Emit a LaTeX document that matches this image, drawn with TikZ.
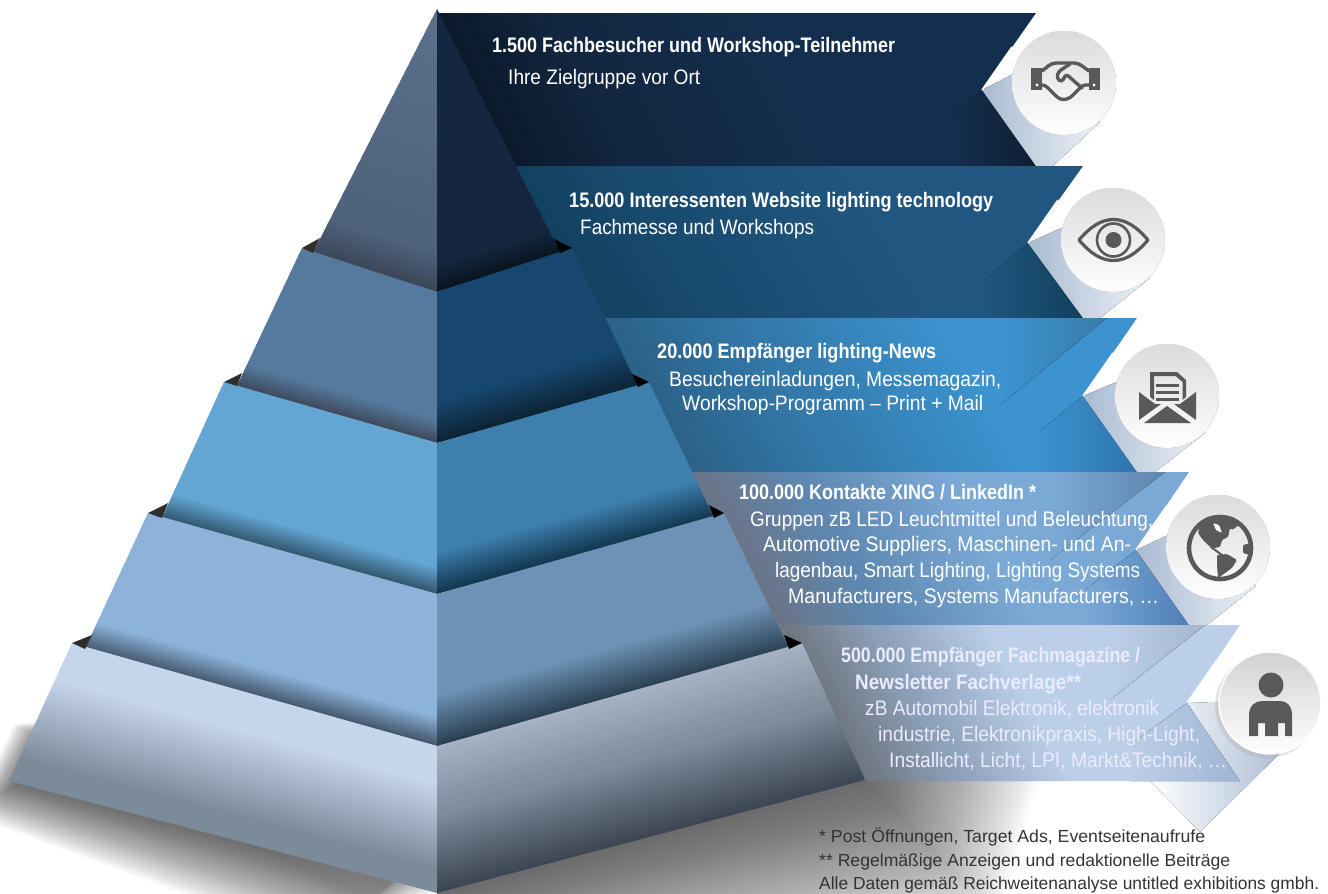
\documentclass[tikz,border=0pt]{standalone}
\usepackage{fontspec}
\usepackage{graphicx}
\setmainfont{Liberation Sans}
\usetikzlibrary{calc}
\definecolor{iconc}{HTML}{58595B}
\definecolor{shA}{HTML}{A9BBD2}
\definecolor{shB}{HTML}{EDF1F6}
\newlength\fitlen
\newcommand\rgf{\fontsize{21}{24}\selectfont}
\newcommand\bdf{\fontsize{21}{24}\selectfont\bfseries}
\newcommand\ntf{\fontsize{17.5}{21}\selectfont}
% name, style, x, baseline y, width, font, text
\newcommand\fitline[7]{%
  \node[#2,anchor=base west,inner sep=0pt] (#1) at (#3,#4) {\settowidth\fitlen{#6#7}\pgfmathsetmacro\fitr{#5/\the\fitlen}\scalebox{\fitr}[1]{#6#7}};}
% bands between A-B and D-C : A B C D t0 t1 c0 c1
\newcommand\facegrad[8]{%
  \foreach \gs in {0,1,...,21}{%
    \pgfmathsetmacro\gtt{#5+(#6-#5)*\gs/22}%
    \pgfmathsetmacro\gtu{min(1,\gtt+1.7*(#6-#5)/22)}%
    \pgfmathsetmacro\gpp{100*(1-\gs/21)}%
    \fill[#7!\gpp!#8] ($(#1)!\gtt!(#4)$) -- ($(#2)!\gtt!(#3)$) -- ($(#2)!\gtu!(#3)$) -- ($(#1)!\gtu!(#4)$) -- cycle;
  }}
% soft shadow: nested polygons between inner and outer outlines of 4 corners
\newcommand\softshadow[8]{%
  \foreach \gs in {1,...,44}{%
    \pgfmathsetmacro\gtt{\gs/44}%
    \fill[black,opacity=.0195] ($(#1)!\gtt!(#5)$) -- ($(#2)!\gtt!(#6)$) -- ($(#3)!\gtt!(#7)$) -- ($(#4)!\gtt!(#8)$) -- cycle;
  }}
\newcommand\rib[6]{% edge x top, y top, edge x bottom, y bottom, right x, W
  \coordinate (ra) at (#1,#2); \coordinate (rb) at (#3,#4);
  \coordinate (rc) at (#3+#6,#4); \coordinate (rd) at (#1+#6,#2);}
\tikzset{
  ribt/.style={text=white},
  ribf/.style={text=white!92!blue},
  notet/.style={text=black!80},
  ico/.style={fill=iconc,draw=none},
  icol/.style={draw=iconc,line cap=round,line join=round},
  disc/.style={shade,shading angle=-45,top color=#1,bottom color=white},
  disc/.default={black!14},
  foldshadow/.style={shade,left color=shA,right color=shB}
}
\begin{document}
\begin{tikzpicture}[x=1pt,y=-1pt]
\useasboundingbox (0,0) rectangle (1328,894);
% ---- ground shadows
\coordinate (sa) at (60,720); \coordinate (sb) at (20,781); \coordinate (sc) at (437,893); \coordinate (sd) at (437,760);
\coordinate (ta) at (14,724); \coordinate (tb) at (-30,815); \coordinate (tc) at (280,930); \coordinate (td) at (437,930);
\softshadow{sa}{sb}{sc}{sd}{ta}{tb}{tc}{td}
\coordinate (ua) at (437,893); \coordinate (ub) at (865,781); \coordinate (uc) at (865,700); \coordinate (ud) at (437,700);
\coordinate (va) at (437,1010); \coordinate (vb) at (1000,920); \coordinate (vc) at (1060,700); \coordinate (vd) at (437,700);
\softshadow{ua}{ub}{uc}{ud}{va}{vb}{vc}{vd}
% ---- long shadow of the last ribbon
\fill[shade,left color=white,right color=shA]
  (1187,703) -- (1240,781) -- (1150,781) -- (1200,832) -- (1288,745) -- (1270,700) -- cycle;
% ---- ribbons
% R1
\begin{scope}
\definecolor{a0}{HTML}{0B1A2B}\definecolor{a1}{HTML}{12263F}\definecolor{a2}{HTML}{142F4E}
\clip (437,13) -- (1036,13) -- (982,90) -- (1036,166) -- (490,166) -- cycle;
\fill[a2] (430,13) rectangle (1040,166);
\fill[a0] (430,13) -- (439,13) -- (516,166) -- (430,166) -- cycle;
\rib{439}{13}{516}{166}{1036}{320}
\facegrad{ra}{rb}{rc}{rd}{0}{.35}{a0}{a1}
\facegrad{ra}{rb}{rc}{rd}{.35}{1}{a1}{a2}
\fill[shade,left color=a2,right color=a1!80!black] (982,90) -- (1036,166) -- (950,166) -- (950,118) -- cycle;
\end{scope}
\fill[foldshadow] (982,90) -- (1036,166) -- (1053,166) -- (1100,122) -- (1064,48) -- cycle;
\draw[white,line width=1.6pt] (982,90) -- (1012,47);
% R2
\begin{scope}
\definecolor{b0}{HTML}{134260}\definecolor{b1}{HTML}{1A4C72}\definecolor{b2}{HTML}{20567F}
\clip (480,166) -- (1083,166) -- (1028,243) -- (1083,318) -- (570,318) -- cycle;
\fill[b2] (480,166) rectangle (1090,318);
\fill[b0] (480,166) -- (516,166) -- (607,318) -- (480,318) -- cycle;
\rib{516}{166}{607}{318}{1083}{330}
\facegrad{ra}{rb}{rc}{rd}{0}{.4}{b0}{b1}
\facegrad{ra}{rb}{rc}{rd}{.4}{1}{b1}{b2}
\fill[shade,left color=b2,right color=black!4!b0] (1028,243) -- (1083,318) -- (985,318) -- (985,280) -- cycle;
\end{scope}
\fill[foldshadow] (1028,243) -- (1083,318) -- (1100,318) -- (1150,278) -- (1113,205) -- cycle;
\draw[white,line width=1.6pt] (1028,243) -- (1058,200);
% R3
\begin{scope}
\definecolor{c0}{HTML}{2B6288}\definecolor{c1}{HTML}{337AAB}\definecolor{c2}{HTML}{3C93CF}
\definecolor{c3}{HTML}{3A7CAA}\definecolor{c4}{HTML}{2E74AC}
\clip (570,318) -- (1137,318) -- (1083,396) -- (1137,472) -- (660,472) -- cycle;
\fill[c2] (570,318) rectangle (1140,472);
\fill[c0] (570,318) -- (607,318) -- (693,472) -- (570,472) -- cycle;
\rib{607}{318}{693}{472}{1137}{340}
\facegrad{ra}{rb}{rc}{rd}{0}{.45}{c0}{c1}
\facegrad{ra}{rb}{rc}{rd}{.45}{1}{c1}{c2}
\fill[shade,left color=c2,right color=c3] (1107,318) -- (1000,318) -- (1000,405) -- cycle;
\fill[shade,left color=c2,right color=c4] (1083,396) -- (1137,472) -- (1038,472) -- (1038,433) -- cycle;
\end{scope}
\fill[foldshadow] (1083,396) -- (1137,472) -- (1155,472) -- (1205,433) -- (1167,361) -- cycle;
\draw[white,line width=1.6pt] (1083,396) -- (1113,353);
% R4
\begin{scope}
\definecolor{d0}{HTML}{6A7487}\definecolor{d1}{HTML}{5E88B1}\definecolor{d2}{HTML}{7BA9D6}
\definecolor{d3}{HTML}{5F86AD}\definecolor{d4}{HTML}{4F7FB8}
\clip (660,472) -- (1189,472) -- (1136,550) -- (1189,625) -- (750,625) -- cycle;
\fill[d2] (660,472) rectangle (1195,625);
\fill[d0] (660,472) -- (693,472) -- (780,625) -- (660,625) -- cycle;
\rib{693}{472}{780}{625}{1189}{260}
\facegrad{ra}{rb}{rc}{rd}{0}{.4}{d0}{d1}
\facegrad{ra}{rb}{rc}{rd}{.4}{1}{d1}{d2}
\fill[shade,left color=d2,right color=d3] (1165,472) -- (1050,472) -- (1050,560) -- cycle;
\fill[shade,left color=d2,right color=d4] (1136,550) -- (1189,625) -- (1085,625) -- (1085,590) -- cycle;
\end{scope}
\fill[foldshadow] (1136,550) -- (1189,625) -- (1207,625) -- (1256,586) -- (1218,512) -- cycle;
\draw[white,line width=1.6pt] (1136,550) -- (1166,507);
% R5
\begin{scope}
\definecolor{e0}{HTML}{6E757E}\definecolor{e1}{HTML}{8CA0B9}\definecolor{e2}{HTML}{BBCFE8}
\definecolor{e3}{HTML}{A3B6CC}\definecolor{e4}{HTML}{9FB5D3}
\clip (750,625) -- (1240,625) -- (1187,703) -- (1240,781) -- (840,781) -- cycle;
\fill[e2] (750,625) rectangle (1245,781);
\fill[e0] (750,625) -- (780,625) -- (865,781) -- (750,781) -- cycle;
\rib{780}{625}{865}{781}{1240}{210}
\facegrad{ra}{rb}{rc}{rd}{0}{.45}{e0}{e1}
\facegrad{ra}{rb}{rc}{rd}{.45}{1}{e1}{e2}
\fill[shade,left color=e2,right color=e3] (1205,625) -- (1110,625) -- (1110,700) -- cycle;
\fill[shade,left color=e2,right color=e4] (1187,703) -- (1240,781) -- (1130,781) -- (1130,745) -- cycle;
\end{scope}
\draw[white,line width=1.6pt] (1187,703) -- (1217,660);
% ---- pyramid
\definecolor{k1}{HTML}{5A708B}\definecolor{k1b}{HTML}{4F627B}\definecolor{k1c}{HTML}{3B4759}
\definecolor{m1}{HTML}{14263F}\definecolor{m1c}{HTML}{0A1520}
\definecolor{k2}{HTML}{567A9D}\definecolor{k2c}{HTML}{3F4C5E}
\definecolor{m2}{HTML}{17476F}\definecolor{m2c}{HTML}{0C2436}
\definecolor{k3}{HTML}{63A5D3}\definecolor{k3c}{HTML}{33586F}
\definecolor{m3}{HTML}{3E7FAE}\definecolor{m3c}{HTML}{123750}
\definecolor{k4}{HTML}{8EB3DB}\definecolor{k4c}{HTML}{44596E}
\definecolor{m4}{HTML}{6E92B6}\definecolor{m4c}{HTML}{2B4153}
\definecolor{k5}{HTML}{C5D5EB}\definecolor{k5b}{HTML}{7C8B9A}
\definecolor{m5}{HTML}{A5B2C3}\definecolor{m5b}{HTML}{7F8D9D}\definecolor{m5c}{HTML}{3E4754}
\coordinate (c1) at (437,9);
\coordinate (c2) at (437,292);
\coordinate (c3) at (437,443);
\coordinate (c4) at (437,594);
\coordinate (c5) at (437,746);
\coordinate (c6) at (437,893);
\coordinate (l1) at (437,9);  \coordinate (li1) at (313,253); \coordinate (ln1) at (320,238);
\coordinate (l2) at (302,248);\coordinate (li2) at (237,386); \coordinate (ln2) at (242,373);
\coordinate (l3) at (224,382);\coordinate (li3) at (162,518); \coordinate (ln3) at (168,503);
\coordinate (l4) at (148,513);\coordinate (li4) at (85,649);  \coordinate (ln4) at (92,635);
\coordinate (l5) at (72,643); \coordinate (li5) at (9,781);
\coordinate (r1) at (437,9);  \coordinate (ri1) at (560,253); \coordinate (rn1) at (554,239);
\coordinate (r2) at (572,248);\coordinate (ri2) at (638,387); \coordinate (rn2) at (632,374);
\coordinate (r3) at (649,382);\coordinate (ri3) at (714,518); \coordinate (rn3) at (709,505);
\coordinate (r4) at (724,513);\coordinate (ri4) at (789,649); \coordinate (rn4) at (784,635);
\coordinate (r5) at (802,643);\coordinate (ri5) at (865,780);
% tier 1
\facegrad{l1}{c1}{c2}{li1}{0}{.86}{k1}{k1b}
\facegrad{l1}{c1}{c2}{li1}{.86}{1}{k1b}{k1c}
\facegrad{r1}{c1}{c2}{ri1}{0}{.9}{m1}{m1}
\facegrad{r1}{c1}{c2}{ri1}{.9}{1}{m1}{m1c}
% tier 2
\facegrad{l2}{c2}{c3}{li2}{0}{.84}{k2}{k2}
\facegrad{l2}{c2}{c3}{li2}{.84}{1}{k2}{k2c}
\facegrad{r2}{c2}{c3}{ri2}{0}{.72}{m2}{m2}
\facegrad{r2}{c2}{c3}{ri2}{.72}{1}{m2}{m2c}
% tier 3
\facegrad{l3}{c3}{c4}{li3}{0}{.82}{k3}{k3}
\facegrad{l3}{c3}{c4}{li3}{.82}{1}{k3}{k3c}
\facegrad{r3}{c3}{c4}{ri3}{0}{.72}{m3}{m3}
\facegrad{r3}{c3}{c4}{ri3}{.72}{1}{m3}{m3c}
% tier 4
\facegrad{l4}{c4}{c5}{li4}{0}{.8}{k4}{k4}
\facegrad{l4}{c4}{c5}{li4}{.8}{1}{k4}{k4c}
\facegrad{r4}{c4}{c5}{ri4}{0}{.66}{m4}{m4}
\facegrad{r4}{c4}{c5}{ri4}{.66}{1}{m4}{m4c}
% tier 5
\facegrad{l5}{c5}{c6}{li5}{0}{.25}{k5}{k5}
\facegrad{l5}{c5}{c6}{li5}{.25}{.85}{k5}{k5b}
\facegrad{l5}{c5}{c6}{li5}{.85}{1}{k5b}{k5b}
\facegrad{r5}{c5}{c6}{ri5}{0}{.45}{m5}{m5b}
\facegrad{r5}{c5}{c6}{ri5}{.45}{1}{m5b}{m5c}
% notch triangles
\fill[black!82] (ln1) -- (l2) -- (li1) -- cycle;
\fill[black] (rn1) -- (r2) -- (ri1) -- cycle;
\fill[black!82] (ln2) -- (l3) -- (li2) -- cycle;
\fill[black] (rn2) -- (r3) -- (ri2) -- cycle;
\fill[black!82] (ln3) -- (l4) -- (li3) -- cycle;
\fill[black] (rn3) -- (r4) -- (ri3) -- cycle;
\fill[black!82] (ln4) -- (l5) -- (li4) -- cycle;
\fill[black] (rn4) -- (r5) -- (ri4) -- cycle;
% ---- discs
\fill[disc,draw=blue!6!white] (1064,83) circle (52pt);
\fill[disc,draw=blue!6!white] (1113,240) circle (52pt);
\fill[disc,draw=blue!6!white] (1167,396) circle (52pt);
\fill[disc,draw=blue!6!white] (1218,547) circle (52pt);
\fill[black!30,opacity=.35] (1267,706) circle (52pt);
\fill[disc=black!18,draw=white,line width=1.4pt] (1270,703) circle (51pt);
% ---- handshake
\fill[ico] (1031,68) rectangle (1042,90);
\fill[ico] (1089,68) rectangle (1100,90);
\fill[white] (1037,85) circle (1.6pt);
\fill[white] (1094,85) circle (1.6pt);
\draw[icol,line width=3.4pt,rounded corners=4pt] (1042,71) -- (1052,63) -- (1078,63) -- (1089,71);
\draw[icol,line width=3.4pt,rounded corners=3pt] (1042,85) -- (1045,85) -- (1058,98) -- (1063,100) -- (1070,98) -- (1083,85) -- (1089,85);
\draw[icol,line width=3.4pt,rounded corners=3pt] (1070,64) -- (1058,72) -- (1057,79) -- (1062,82) -- (1066,74) -- (1082,88);
% ---- eye
\draw[icol,line width=3.2pt] (1079,240) .. controls (1090,227) and (1101,219.5) .. (1113.5,219.5) .. controls (1126,219.5) and (1137,227) .. (1148,240) .. controls (1137,253) and (1126,260.5) .. (1113.5,260.5) .. controls (1101,260.5) and (1090,253) .. (1079,240) -- cycle;
\draw[icol,line width=2.6pt] (1113.5,240) circle (16.5pt);
\fill[ico] (1113.5,240) circle (8pt);
% ---- envelope
\fill[ico] (1139,392) -- (1155,404) -- (1161,404) -- (1139,420) -- cycle;
\fill[ico] (1196,392) -- (1180,404) -- (1174,404) -- (1196,420) -- cycle;
\fill[ico] (1144,423) -- (1167,406) -- (1191,423) -- cycle;
\fill[ico] (1150,372) -- (1177,372) -- (1186,380) -- (1186,397) -- (1182.5,400) -- (1182.5,382) -- (1175.5,376) -- (1154,376) -- (1154,400) -- (1150,397) -- cycle;
\fill[ico] (1156,383.5) rectangle (1179,386.5);
\fill[ico] (1156,391) rectangle (1179,394);
\fill[ico] (1156,398) rectangle (1179,401);
% ---- globe
\draw[icol,line width=4.6pt] (1220,548) circle (31pt);
\fill[ico,rounded corners=1.2pt] (1198,533) -- (1200,525) -- (1212,517) -- (1232,517) -- (1239,525) -- (1232,530) -- (1230,528) -- (1228,537) -- (1222,540) -- (1220,547) -- (1214,548) -- (1210,547) -- (1203,540) -- cycle;
\fill[white,rounded corners=1pt] (1213,523) -- (1219,525) -- (1222,533) -- (1216,530) -- cycle;
\draw[icol,line width=2pt] (1211,547) -- (1222,555);
\fill[ico,rounded corners=1.2pt] (1217,555) -- (1227,554) -- (1237,560) -- (1232,568) -- (1225,573) -- (1218,578) -- (1217,565) -- cycle;
\fill[ico,rounded corners=1pt] (1243,545) -- (1251,543) -- (1250,555) -- (1243,553) -- cycle;
% ---- person
\fill[ico] (1271,685) circle (12.5pt);
\fill[ico] (1249,736) -- (1249,715) .. controls (1249,706) and (1255,701) .. (1262,701) -- (1280,701) .. controls (1287,701) and (1292,706) .. (1292,715) -- (1292,736) -- (1285,736) -- (1285,723) -- (1278,723) -- (1278,736) -- (1265,736) -- (1265,723) -- (1258,723) -- (1258,736) -- cycle;
% ---- texts
\fitline{t1a}{ribt}{492}{52}{403}{\bdf}{1.500 Fachbesucher und Workshop-Teilnehmer}
\fitline{t1b}{ribt}{508}{84}{192}{\rgf}{Ihre Zielgruppe vor Ort}
\fitline{t2a}{ribt}{569}{207}{424}{\bdf}{15.000 Interessenten Website lighting technology}
\fitline{t2b}{ribt}{580}{234}{234}{\rgf}{Fachmesse und Workshops}
\fitline{t3a}{ribt}{657}{358}{279}{\bdf}{20.000 Empfänger lighting-News}
\fitline{t3b}{ribt}{669}{386}{332}{\rgf}{Besuchereinladungen, Messemagazin,}
\fitline{t3c}{ribt}{682}{410}{301}{\rgf}{Workshop-Programm – Print + Mail}
\fitline{t4a}{ribt}{739}{499}{297}{\bdf}{100.000 Kontakte XING / LinkedIn *}
\fitline{t4b}{ribt}{750}{526}{403}{\rgf}{Gruppen zB LED Leuchtmittel und Beleuchtung,}
\fitline{t4c}{ribt}{763}{551}{368}{\rgf}{Automotive Suppliers, Maschinen- und An-}
\fitline{t4d}{ribt}{775}{577}{365}{\rgf}{lagenbau, Smart Lighting, Lighting Systems}
\fitline{t4e}{ribt}{788}{603}{371}{\rgf}{Manufacturers, Systems Manufacturers, …}
\fitline{t5a}{ribf}{841}{662}{299}{\bdf}{500.000 Empfänger Fachmagazine /}
\fitline{t5b}{ribf}{855}{689}{226}{\bdf}{Newsletter Fachverlage**}
\fitline{t5c}{ribf}{865}{715}{294}{\rgf}{zB Automobil Elektronik, elektronik}
\fitline{t5d}{ribf}{878}{741}{322}{\rgf}{industrie, Elektronikpraxis, High-Light,}
\fitline{t5e}{ribf}{889}{767}{338}{\rgf}{Installicht, Licht, LPI, Markt\&Technik, …}
\fitline{n1}{notet}{819}{842}{386}{\ntf}{* Post Öffnungen, Target Ads, Eventseitenaufrufe}
\fitline{n2}{notet}{819}{866}{411}{\ntf}{** Regelmäßige Anzeigen und redaktionelle Beiträge}
\fitline{n3}{notet}{819}{889}{500}{\ntf}{Alle Daten gemäß Reichweitenanalyse untitled exhibitions gmbh.}
\end{tikzpicture}
\end{document}
